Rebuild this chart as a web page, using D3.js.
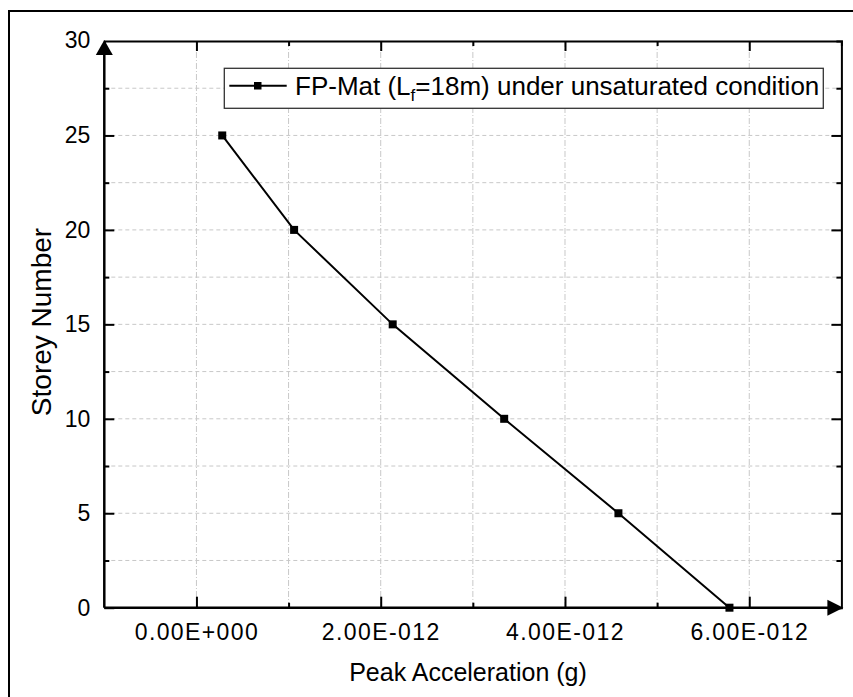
<!DOCTYPE html>
<html lang="en">
  <head>
    <meta charset="UTF-8" />
    <title>Storey Number vs Peak Acceleration</title>
    <style>
      body {
        margin: 0;
        background: #fff;
      }
      #my_dataviz {
        width: 853px;
        height: 697px;
        position: absolute;
      }
      text {
        font-family: "Liberation Sans", Arial, sans-serif;
        fill: #000;
      }
    </style>
  </head>
  <body>
    <div id="my_dataviz"></div>
    <script src="https://cdn.jsdelivr.net/npm/d3@7"></script>
    <script>
      // data (x in units of 1E-12 g)
      var accel = [0.28, 1.06, 2.13, 3.34, 4.58, 5.785];
      var storey = [25, 20, 15, 10, 5, 0];
      var xTicks = [0, 2, 4, 6];
      var xTickLabels = ["0.00E+000", "2.00E-012", "4.00E-012", "6.00E-012"];
      var yTicks = [0, 5, 10, 15, 20, 25, 30];
      var legendLabel = "FP-Mat (L";

      var width = 853;
      var height = 697;
      var plotLeft = 104.3,
        plotRight = 841.4,
        plotTop = 41,
        plotBottom = 607.7;

      var svg = d3
        .select("#my_dataviz")
        .append("svg")
        .attr("width", width)
        .attr("height", height);

      // outer frame (runs off the right and bottom edge)
      svg
        .append("rect")
        .attr("x", 9)
        .attr("y", 11)
        .attr("width", 900)
        .attr("height", 800)
        .attr("fill", "none")
        .attr("stroke", "#000")
        .attr("stroke-width", 2);

      var x = d3.scaleLinear().domain([-1, 7]).range([plotLeft, plotRight]);
      var y = d3.scaleLinear().domain([0, 30]).range([plotBottom, plotTop]);

      // grid
      var grid = svg.append("g").attr("class", "grid");
      grid
        .selectAll(".hgrid")
        .data(d3.range(2.5, 30, 2.5))
        .enter()
        .append("line")
        .attr("x1", plotLeft)
        .attr("x2", plotRight)
        .attr("y1", function (d) {
          return y(d);
        })
        .attr("y2", function (d) {
          return y(d);
        })
        .attr("stroke", "#c8c8c8")
        .attr("stroke-dasharray", "4,3");
      grid
        .selectAll(".vgrid")
        .data(d3.range(0, 7, 1))
        .enter()
        .append("line")
        .attr("x1", function (d) {
          return x(d);
        })
        .attr("x2", function (d) {
          return x(d);
        })
        .attr("y1", plotTop)
        .attr("y2", plotBottom)
        .attr("stroke", "#c8c8c8")
        .attr("stroke-dasharray", "6,2,1,2");

      // mirror axes (top and right)
      var topAxis = svg
        .append("g")
        .attr("transform", "translate(0," + plotTop + ")")
        .call(
          d3.axisTop(x).tickValues(d3.range(0, 7, 1)).tickSize(-5).tickFormat("")
        );
      var rightAxis = svg
        .append("g")
        .attr("transform", "translate(" + plotRight + ",0)")
        .call(
          d3.axisRight(y).tickValues(d3.range(0, 30, 2.5)).tickSize(-5).tickFormat("")
        );
      [topAxis, rightAxis].forEach(function (a) {
        a.select(".domain").attr("stroke-width", 2).attr("stroke", "#000");
        a.selectAll(".tick line").attr("stroke-width", 2).attr("stroke", "#000");
      });
      topAxis
        .selectAll(".tick line")
        .filter(function (d) {
          return d % 2 === 0;
        })
        .attr("y2", 10);
      rightAxis
        .selectAll(".tick line")
        .filter(function (d) {
          return d % 5 === 0;
        })
        .attr("x2", -10);

      // bottom axis
      var xAxis = svg
        .append("g")
        .attr("transform", "translate(0," + plotBottom + ")")
        .call(
          d3
            .axisBottom(x)
            .tickValues(d3.range(0, 7, 1))
            .tickSize(-5)
            .tickPadding(16)
            .tickFormat(function (d) {
              var i = xTicks.indexOf(d);
              return i < 0 ? "" : xTickLabels[i];
            })
        );
      xAxis.select(".domain").attr("d", "M" + plotLeft + ",0H" + (plotRight - 8));
      xAxis
        .selectAll(".tick line")
        .filter(function (d) {
          return d % 2 === 0;
        })
        .attr("y2", -11);
      xAxis
        .selectAll(".tick text")
        .attr("font-size", 23)
        .attr("letter-spacing", 1.4)
        .attr("dy", "0.71em");

      // left axis
      var yAxis = svg
        .append("g")
        .attr("transform", "translate(" + plotLeft + ",0)")
        .call(
          d3
            .axisLeft(y)
            .tickValues(d3.range(0, 30, 2.5))
            .tickSize(-5)
            .tickPadding(14)
            .tickFormat(function (d) {
              return yTicks.indexOf(d) < 0 ? "" : d;
            })
        );
      yAxis.select(".domain").attr("d", "M0," + plotBottom + "V" + (plotTop + 8));
      yAxis
        .selectAll(".tick line")
        .filter(function (d) {
          return d % 5 === 0;
        })
        .attr("x2", 10);
      yAxis.selectAll(".tick text").attr("font-size", 23);
      // label 30 sits at the arrow tip
      yAxis
        .append("text")
        .attr("x", -14)
        .attr("y", y(30))
        .attr("dy", "0.32em")
        .attr("text-anchor", "end")
        .attr("font-size", 23)
        .attr("fill", "#000")
        .text(yTicks[yTicks.length - 1]);

      [xAxis, yAxis].forEach(function (a) {
        a.select(".domain").attr("stroke-width", 2.5).attr("stroke", "#000");
        a.selectAll(".tick line").attr("stroke-width", 2).attr("stroke", "#000");
        a.selectAll(".tick text").attr("fill", "#000");
      });

      // arrows
      svg
        .append("path")
        .attr(
          "d",
          "M" + plotLeft + "," + (plotTop - 1) +
            "L" + (plotLeft - 8.5) + "," + (plotTop + 14) +
            "L" + (plotLeft + 8.5) + "," + (plotTop + 14) + "Z"
        )
        .attr("fill", "#000");
      svg
        .append("path")
        .attr(
          "d",
          "M" + (plotRight + 2) + "," + plotBottom +
            "L" + (plotRight - 14) + "," + (plotBottom - 8) +
            "L" + (plotRight - 14) + "," + (plotBottom + 8) + "Z"
        )
        .attr("fill", "#000");

      // series
      var pts = accel.map(function (a, i) {
        return [a, storey[i]];
      });
      svg
        .append("path")
        .attr(
          "d",
          d3
            .line()
            .x(function (d) {
              return x(d[0]);
            })
            .y(function (d) {
              return y(d[1]);
            })(pts)
        )
        .attr("fill", "none")
        .attr("stroke", "#000")
        .attr("stroke-width", 2);
      svg
        .selectAll(".pt")
        .data(pts)
        .enter()
        .append("rect")
        .attr("x", function (d) {
          return x(d[0]) - 4;
        })
        .attr("y", function (d) {
          return y(d[1]) - 4;
        })
        .attr("width", 8)
        .attr("height", 8)
        .attr("fill", "#000");

      // axis titles
      svg
        .append("text")
        .attr("x", 468)
        .attr("y", 681)
        .attr("text-anchor", "middle")
        .attr("font-size", 25)
        .text("Peak Acceleration (g)");
      svg
        .append("text")
        .attr("transform", "translate(51," + 322 + ") rotate(-90)")
        .attr("text-anchor", "middle")
        .attr("font-size", 28)
        .text("Storey Number");

      // legend
      var legend = svg.append("g");
      legend
        .append("rect")
        .attr("x", 224.3)
        .attr("y", 68.3)
        .attr("width", 599)
        .attr("height", 40)
        .attr("fill", "#fff")
        .attr("stroke", "#333")
        .attr("stroke-width", 1.3);
      legend
        .append("line")
        .attr("x1", 229.3)
        .attr("x2", 286.7)
        .attr("y1", 85.7)
        .attr("y2", 85.7)
        .attr("stroke", "#000")
        .attr("stroke-width", 2);
      legend
        .append("rect")
        .attr("x", 254)
        .attr("y", 82)
        .attr("width", 7.5)
        .attr("height", 7.5)
        .attr("fill", "#000");
      var lt = legend
        .append("text")
        .attr("x", 295)
        .attr("y", 95)
        .attr("font-size", 26);
      lt.append("tspan").text(legendLabel);
      lt.append("tspan").attr("font-size", 17).attr("dy", 6).text("f");
      lt.append("tspan").attr("dy", -6).text("=18m) under unsaturated condition");
    </script>
  </body>
</html>
